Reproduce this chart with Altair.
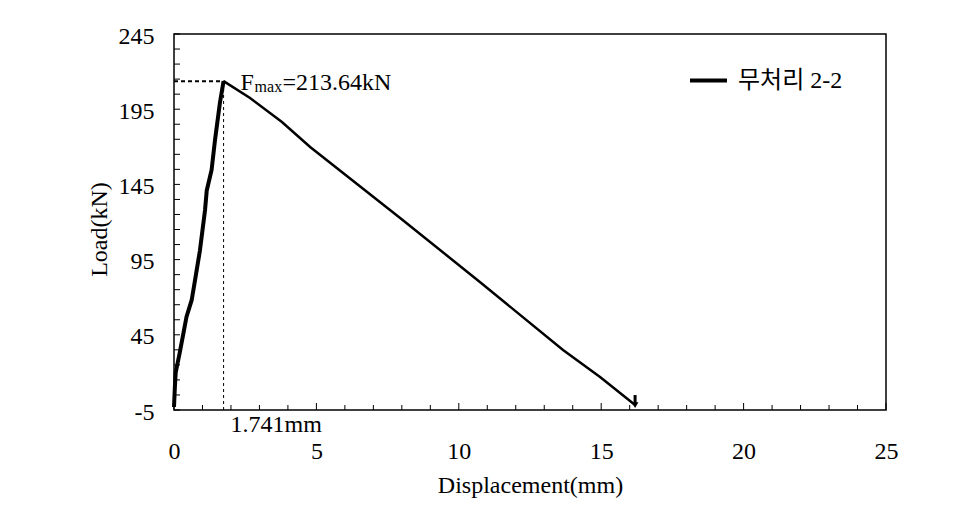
import altair as alt
import pandas as pd

# ---- data ----
series_name = "무처리 2-2"
disp = [0.0, 0.03, 0.06, 0.2, 0.33, 0.44, 0.62, 0.74, 0.91, 1.09, 1.15, 1.32, 1.44, 1.61, 1.741,
        2.67, 3.79, 4.78, 7.94, 10.74, 13.66, 14.96, 16.19]
load = [-3.0, 10.0, 20.0, 33.0, 46.0, 57.0, 68.0, 81.5, 101.0, 128.0, 141.0, 154.6, 174.5, 199.0, 213.64,
        202.4, 186.5, 169.9, 122.7, 80.1, 34.9, 16.9, -1.7]
peak_disp = 1.741
peak_load = 213.64
x_label_vals = [0, 5, 10, 15, 20, 25]
y_label_vals = [-5, 45, 95, 145, 195, 245]
x_minor = list(range(0, 26))
y_minor = list(range(-5, 246, 10))

FONT = "'Liberation Serif', 'Noto Sans CJK KR', serif"
FS = 24
W, H = 712, 376

df = pd.DataFrame({"disp": disp, "load": load, "order": list(range(len(disp))), "series": series_name})
peak_i = disp.index(peak_disp)

xs = alt.Scale(domain=[0, 25], nice=False, zero=False)
ys = alt.Scale(domain=[-5, 245], nice=False, zero=False)

base = alt.Chart(df)

xaxis = alt.Axis(values=x_label_vals, title="Displacement(mm)", domain=False, ticks=False, grid=False,
                 labelPadding=29, labelFlush=False, labelExpr="'' + datum.value",
                 titleX=W / 2, titleY=75, titleBaseline="middle", titleAlign="center")
yaxis = alt.Axis(values=y_label_vals, title="Load(kN)", domain=False, ticks=False, grid=False,
                 labelPadding=20, labelOffset=2, labelFlush=False, labelExpr="'' + datum.value",
                 titleX=-75, titleY=195, titleAngle=-90,
                 titleBaseline="middle", titleAlign="center")

rise = base.transform_filter(alt.datum.order <= peak_i).mark_line(strokeWidth=4, color="black").encode(
    x=alt.X("disp:Q", scale=xs, axis=xaxis),
    y=alt.Y("load:Q", scale=ys, axis=yaxis),
    order="order:Q",
    color=alt.Color("series:N", scale=alt.Scale(range=["black"]),
                    legend=alt.Legend(title=None, orient="none", legendX=514, legendY=26,
                                      symbolType="stroke", symbolStrokeWidth=4, symbolSize=1369,
                                      labelFontSize=FS, labelFont=FONT, labelOffset=9,
                                      labelColor="black")),
)
fall = base.transform_filter(alt.datum.order >= peak_i).mark_line(strokeWidth=2.5, color="black").encode(
    x=alt.X("disp:Q", scale=xs),
    y=alt.Y("load:Q", scale=ys),
    order="order:Q",
    color=alt.Color("series:N", scale=alt.Scale(range=["black"]), legend=None),
)

last = base.transform_filter(alt.datum.order == len(disp) - 1)
arrow_shaft = last.mark_rule(color="black", strokeWidth=3, yOffset=-10, y2Offset=-2).encode(
    x=alt.X("disp:Q", scale=xs), y=alt.Y("load:Q", scale=ys), y2="load:Q")
arrow_head = last.mark_point(shape="triangle-down", filled=True, color="black", size=45, opacity=1).encode(
    x=alt.X("disp:Q", scale=xs), y=alt.Y("load:Q", scale=ys))

pk = pd.DataFrame({"x0": [0.0], "x": [peak_disp], "y": [peak_load], "ybot": [-5.0],
                   "lab": [f"{peak_disp}mm"], "val": [f"={peak_load}kN"]})
pkc = alt.Chart(pk)
hdash = pkc.mark_rule(color="black", strokeWidth=2, strokeDash=[4, 3]).encode(
    x=alt.X("x0:Q", scale=xs), x2="x:Q", y=alt.Y("y:Q", scale=ys))
vdash = pkc.mark_rule(color="black", strokeWidth=1, strokeDash=[3, 3]).encode(
    x=alt.X("x:Q", scale=xs), y=alt.Y("ybot:Q", scale=ys), y2="y:Q")
txt_F = pkc.mark_text(text="F", font=FONT, fontSize=FS, align="left", baseline="alphabetic",
                      dx=17, dy=9, color="black").encode(x=alt.X("x:Q", scale=xs), y=alt.Y("y:Q", scale=ys))
txt_max = pkc.mark_text(text="max", font=FONT, fontSize=16, align="left", baseline="alphabetic",
                        dx=31, dy=11, color="black").encode(x=alt.X("x:Q", scale=xs), y=alt.Y("y:Q", scale=ys))
txt_val = pkc.mark_text(font=FONT, fontSize=FS, align="left", baseline="alphabetic",
                        dx=59, dy=9, color="black").encode(x=alt.X("x:Q", scale=xs), y=alt.Y("y:Q", scale=ys),
                                                           text="val:N")
txt_mm = pkc.mark_text(font=FONT, fontSize=FS, align="left", baseline="middle",
                       dx=7, dy=15, color="black").encode(x=alt.X("x:Q", scale=xs), y=alt.Y("ybot:Q", scale=ys),
                                                          text="lab:N")

# inward ticks
ytk = alt.Chart(pd.DataFrame({"v": y_minor})).mark_rule(color="black", strokeWidth=1).encode(
    y=alt.Y("v:Q", scale=ys), x=alt.value(0), x2=alt.value(6))
xminor = [v for v in x_minor if v % 5 != 0]
xmajor = [v for v in x_minor if v % 5 == 0]
xtk_minor = alt.Chart(pd.DataFrame({"v": xminor})).mark_rule(color="black", strokeWidth=1).encode(
    x=alt.X("v:Q", scale=xs), y=alt.value(H), y2=alt.value(H - 5))
xtk_major = alt.Chart(pd.DataFrame({"v": xmajor})).mark_rule(color="black", strokeWidth=1).encode(
    x=alt.X("v:Q", scale=xs), y=alt.value(H), y2=alt.value(H - 7))

chart = alt.layer(
    ytk, xtk_minor, xtk_major, hdash, vdash, rise, fall, arrow_shaft, arrow_head,
    txt_F, txt_max, txt_val, txt_mm,
).properties(
    width=W, height=H,
    padding={"left": 174, "top": 34, "right": 72, "bottom": 100},
    autosize=alt.AutoSizeParams(type="none"),
    background="white",
).configure_view(
    stroke="black", strokeWidth=1.5,
).configure_axis(
    labelFont=FONT, titleFont=FONT, labelFontSize=FS, titleFontSize=FS,
    labelColor="black", titleColor="black", titleFontWeight="normal",
)

chart.save("out.html", embed_options={"renderer": "svg", "actions": False})
